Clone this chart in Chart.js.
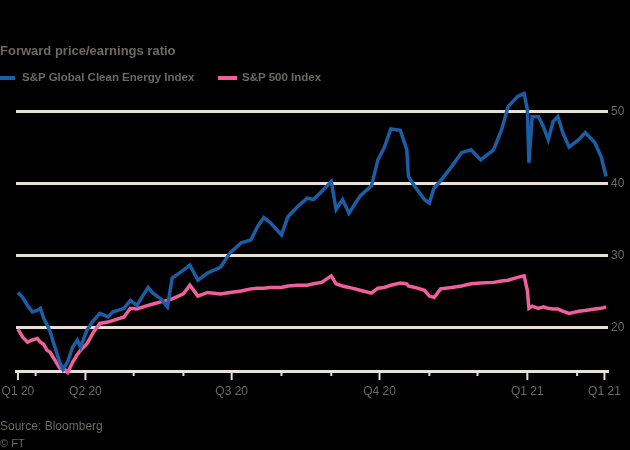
<!DOCTYPE html>
<html lang="en">
<head>
  <meta charset="UTF-8" />
  <title>Forward price/earnings ratio</title>
  <script src="https://cdn.jsdelivr.net/npm/chart.js"></script>
  <style>
    body {
      margin: 0;
      background: #000;
      font-family: 'Liberation Sans', Arial, sans-serif;
    }
    #wrap {
      position: relative;
      width: 630px;
      height: 450px;
    }
    canvas {
      position: absolute;
      left: 0;
      top: 0;
    }
    .txt {
      position: absolute;
      color: #6e6863;
      white-space: nowrap;
      line-height: 1;
    }
    .key {
      position: absolute;
      height: 4px;
    }
  </style>
</head>
<body>
  <div id="wrap">
    <canvas id="peChart" width="630" height="450"></canvas>
    <div class="txt" style="left:0; top:44px; font-size:13px; font-weight:bold;">Forward price/earnings ratio</div>
    <div class="key" style="left:0; top:76px; width:15px; background:#1b5ea5;"></div>
    <div class="txt" style="left:22px; top:72px; font-size:11.5px; font-weight:bold;">S&amp;P Global Clean Energy Index</div>
    <div class="key" style="left:218px; top:76px; width:19px; background:#ef5f9c;"></div>
    <div class="txt" style="left:242px; top:72px; font-size:11.5px; font-weight:bold;">S&amp;P 500 Index</div>
    <div class="txt" style="left:0; top:420px; font-size:12px;">Source: Bloomberg</div>
    <div class="txt" style="left:0; top:438px; font-size:11px;">© FT</div>
  </div>

  <script>
    // values
    const dates = [
      '2020-02-19', '2020-02-22', '2020-02-25', '2020-02-28', '2020-03-02', '2020-03-04',
      '2020-03-06', '2020-03-08', '2020-03-10', '2020-03-13', '2020-03-16', '2020-03-18',
      '2020-03-21', '2020-03-24', '2020-03-27', '2020-03-29', '2020-04-02', '2020-04-06',
      '2020-04-10', '2020-04-15', '2020-04-18', '2020-04-25', '2020-04-29', '2020-05-03',
      '2020-05-10', '2020-05-13', '2020-05-18', '2020-05-22', '2020-05-25', '2020-06-01',
      '2020-06-05', '2020-06-10', '2020-06-16', '2020-06-24', '2020-06-30', '2020-07-07',
      '2020-07-13', '2020-07-17', '2020-07-21', '2020-07-25', '2020-08-01', '2020-08-05',
      '2020-08-11', '2020-08-17', '2020-08-21', '2020-08-26', '2020-09-01', '2020-09-04',
      '2020-09-08', '2020-09-12', '2020-09-19', '2020-09-26', '2020-09-30', '2020-10-04',
      '2020-10-08', '2020-10-14', '2020-10-18', '2020-10-19', '2020-10-23', '2020-10-29',
      '2020-11-01', '2020-11-04', '2020-11-08', '2020-11-15', '2020-11-21', '2020-11-27',
      '2020-12-03', '2020-12-11', '2020-12-16', '2020-12-20', '2020-12-26', '2020-12-30',
      '2021-01-01', '2021-01-02', '2021-01-04', '2021-01-08', '2021-01-11', '2021-01-14',
      '2021-01-17', '2021-01-20', '2021-01-23', '2021-01-27', '2021-02-02', '2021-02-06',
      '2021-02-12', '2021-02-16', '2021-02-19'
    ];

    const cleanEnergy = [
      24.9, 24.2, 23.1, 22.2, 22.4, 22.7,
      21.3, 20.5, 19.5, 17.3, 15.2, 14.2,
      15.3, 17.3, 18.3, 17.3, 19.7, 21.0,
      22.0, 21.5, 22.2, 22.7, 23.8, 23.1,
      25.6, 24.8, 24.0, 22.9, 26.9, 28.0,
      28.7, 26.6, 27.6, 28.4, 30.4, 31.8,
      32.2, 34.0, 35.3, 34.6, 32.9, 35.4,
      36.8, 38.0, 37.8, 38.9, 40.3, 36.4,
      37.8, 35.9, 38.3, 39.7, 43.3, 45.0,
      47.6, 47.4, 44.7, 41.0, 39.6, 37.8,
      37.3, 39.4, 40.4, 42.4, 44.3, 44.7,
      43.3, 44.7, 47.5, 50.7, 52.1, 52.5,
      50.3, 42.9, 49.3, 49.3, 47.9, 46.1,
      48.6, 49.3, 47.1, 45.1, 46.1, 47.1,
      45.7, 43.7, 41.0
    ];

    const sp500 = [
      19.8, 18.7, 18.0, 18.3, 18.5, 18.0,
      17.7, 16.9, 16.6, 15.5, 14.4, 14.5,
      13.8, 15.2, 16.3, 16.9, 17.8, 19.4,
      20.6, 20.8, 21.0, 21.5, 22.7, 22.6,
      23.1, 23.3, 23.6, 23.8, 24.0, 24.7,
      25.9, 24.4, 24.9, 24.7, 24.9, 25.1,
      25.4, 25.5, 25.5, 25.6, 25.6, 25.8,
      25.9, 25.9, 26.1, 26.3, 27.2, 26.1,
      25.8, 25.6, 25.2, 24.8, 25.5, 25.6,
      25.9, 26.2, 26.1, 25.8, 25.6, 25.2,
      24.4, 24.2, 25.4, 25.6, 25.8, 26.1,
      26.2, 26.3, 26.5, 26.6, 27.0, 27.2,
      25.2, 22.7, 23.0, 22.7, 22.9, 22.7,
      22.6, 22.6, 22.3, 22.0, 22.3, 22.4,
      22.6, 22.7, 22.9
    ];

    const tickDates = [
      '2020-02-19', '2020-03-01', '2020-04-01', '2020-05-01', '2020-06-01', '2020-07-01',
      '2020-08-01', '2020-09-01', '2020-10-01', '2020-11-01', '2020-12-01', '2021-01-01',
      '2021-02-01', '2021-02-18'
    ];
    const tickLabels = ['Q1 20', '', 'Q2 20', '', '', 'Q3 20', '', '', 'Q4 20', '', '', 'Q1 21', '', 'Q1 21'];
    const yTicks = [20, 30, 40, 50];

    const gridColor = '#e9e0d6';
    const textColor = '#6e6863';

    function dayOf(s) {
      const [y, m, d] = s.split('-').map(Number);
      return (Date.UTC(y, m - 1, d) - Date.UTC(2020, 0, 1)) / 86400000;
    }

    // short month ticks, longer ones where there is a label
    const tickMarks = {
      id: 'tickMarks',
      afterDraw(chart) {
        const s = chart.scales.x;
        const c = chart.ctx;
        c.save();
        c.strokeStyle = gridColor;
        c.lineWidth = 2;
        s.ticks.forEach((t, i) => {
          const px = s.getPixelForValue(t.value);
          const len = tickLabels[i] ? 9 : 5;
          c.beginPath();
          c.moveTo(px, s.top);
          c.lineTo(px, s.top + len);
          c.stroke();
        });
        c.restore();
      }
    };

    const ctx = document.getElementById('peChart').getContext('2d');
    new Chart(ctx, {
      type: 'line',
      data: {
        datasets: [
          {
            label: 'S&P Global Clean Energy Index',
            data: dates.map((d, i) => ({ x: dayOf(d), y: cleanEnergy[i] })),
            borderColor: '#1b5ea5',
            borderWidth: 3.5,
            pointRadius: 0,
            clip: false
          },
          {
            label: 'S&P 500 Index',
            data: dates.map((d, i) => ({ x: dayOf(d), y: sp500[i] })),
            borderColor: '#ef5f9c',
            borderWidth: 3.5,
            pointRadius: 0,
            clip: false
          }
        ]
      },
      options: {
        responsive: false,
        animation: false,
        layout: { padding: { left: 16, top: 90, right: 0, bottom: 0 } },
        plugins: {
          legend: { display: false },
          tooltip: { enabled: false }
        },
        scales: {
          x: {
            type: 'linear',
            min: 47.8,
            max: 416.2,
            afterBuildTicks: s => { s.ticks = tickDates.map(d => ({ value: dayOf(d) })); },
            afterFit: s => {
              s.height = 79;
              s.paddingLeft = 0;
              s.paddingRight = 0;
            },
            grid: { display: false, drawTicks: false },
            border: { display: true, color: gridColor, width: 3 },
            ticks: {
              autoSkip: false,
              maxRotation: 0,
              padding: 13,
              color: textColor,
              font: { family: "'Liberation Sans', Arial, sans-serif", size: 12 },
              callback: (v, i) => tickLabels[i]
            }
          },
          y: {
            position: 'right',
            min: 14,
            max: 53,
            afterBuildTicks: s => { s.ticks = yTicks.map(v => ({ value: v })); },
            afterFit: s => {
              s.width = 22;
              s.paddingTop = 0;
              s.paddingBottom = 0;
            },
            grid: { color: gridColor, lineWidth: 3, drawTicks: false },
            border: { display: false },
            ticks: {
              padding: 3,
              color: textColor,
              font: { family: "'Liberation Sans', Arial, sans-serif", size: 12 }
            }
          }
        }
      },
      plugins: [tickMarks]
    });
  </script>
</body>
</html>
